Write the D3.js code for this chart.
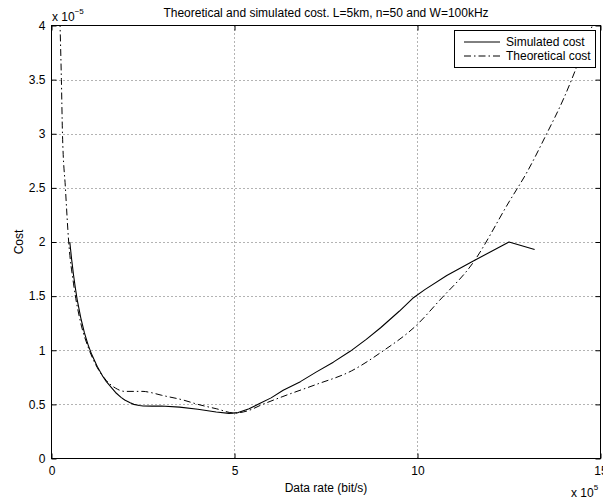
<!DOCTYPE html>
<html><head><meta charset="utf-8">
<script src="https://cdn.jsdelivr.net/npm/d3@7"></script>
<style>
html,body{margin:0;padding:0;background:#fff;}
text{font-family:"Liberation Sans",Arial,Helvetica,sans-serif;fill:#000;}
</style></head>
<body>
<svg id="chart" width="603" height="499"></svg>
<script>
// Data (x in units of 1e5 bit/s, y in units of 1e-5)
const titleText = "Theoretical and simulated cost. L=5km, n=50 and W=100kHz";
const xTicks = [0, 5, 10, 15];
const yTicks = [0, 0.5, 1, 1.5, 2, 2.5, 3, 3.5, 4];
const seriesNames = ["Simulated cost", "Theoretical cost"];

const simX = [0.5, 0.55, 0.6, 0.65, 0.7, 0.8, 0.9, 1.0, 1.1, 1.25, 1.4, 1.5, 1.65, 1.75, 1.9, 2.0, 2.15, 2.25, 2.4, 2.5, 2.75, 3.0, 3.5, 4.0, 4.5, 4.85, 5.1, 5.4, 5.7, 6.0, 6.33, 6.8, 7.24, 7.7, 8.16, 8.6, 9.0, 9.5, 9.87, 10.2, 10.8, 11.5, 12.0, 12.5, 13.2];
const simY = [2.0, 1.84, 1.7, 1.58, 1.47, 1.3, 1.16, 1.05, 0.96, 0.85, 0.76, 0.71, 0.65, 0.61, 0.565, 0.54, 0.515, 0.5, 0.49, 0.485, 0.484, 0.485, 0.475, 0.455, 0.43, 0.417, 0.424, 0.46, 0.51, 0.56, 0.63, 0.71, 0.80, 0.89, 0.99, 1.1, 1.21, 1.36, 1.48, 1.56, 1.69, 1.82, 1.91, 2.0, 1.93];

const theoX = [0.23, 0.27, 0.3, 0.38, 0.47, 0.6, 0.8, 1.0, 1.25, 1.5, 1.75, 2.0, 2.25, 2.5, 2.7, 3.0, 3.6, 4.0, 4.5, 5.0, 5.4, 5.7, 6.3, 7.2, 8.2, 9.0, 10.0, 10.6, 11.5, 12.5, 13.0, 13.5, 14.0, 14.5, 14.8];
const theoY = [4.05, 3.5, 3.0, 2.5, 2.0, 1.62, 1.25, 1.03, 0.84, 0.72, 0.65, 0.62, 0.62, 0.62, 0.61, 0.585, 0.54, 0.5, 0.46, 0.42, 0.445, 0.49, 0.57, 0.68, 0.81, 0.98, 1.24, 1.46, 1.80, 2.37, 2.65, 2.98, 3.33, 3.75, 4.02];

const svg = d3.select("#chart");
const L = 51.5, R = 600.5, T = 25.5, B = 458.5;
const x = d3.scaleLinear().domain([0, 15]).range([L, R]);
const y = d3.scaleLinear().domain([0, 4]).range([B, T]);
const FS = 12;

// grid
const grid = svg.append("g");
grid.selectAll("line.gx").data(xTicks.slice(1, -1)).join("line")
  .attr("x1", d => x(d)).attr("x2", d => x(d)).attr("y1", T).attr("y2", B)
  .attr("stroke", "#666").attr("stroke-width", 1).attr("stroke-dasharray", "1,3");
grid.selectAll("line.gy").data(yTicks.slice(1, -1)).join("line")
  .attr("y1", d => Math.round(y(d)) + 0.5).attr("y2", d => Math.round(y(d)) + 0.5).attr("x1", L).attr("x2", R)
  .attr("stroke", "#666").attr("stroke-width", 1).attr("stroke-dasharray", "1,3");

// clip
svg.append("clipPath").attr("id", "clip").append("rect")
  .attr("x", L).attr("y", T).attr("width", R - L).attr("height", B - T);

const theoLine = d3.line().x(d => x(d[0])).y(d => y(d[1])).curve(d3.curveMonotoneX);
const simLine = d3.line().x(d => x(d[0])).y(d => y(d[1])).curve(d3.curveLinear);
const simData = simX.map((v, i) => [v, simY[i]]);
const theoData = theoX.map((v, i) => [v, theoY[i]]);

const plot = svg.append("g").attr("clip-path", "url(#clip)");
plot.append("path").datum(theoData).attr("d", theoLine)
  .attr("fill", "none").attr("stroke", "#000").attr("stroke-width", 1)
  .attr("stroke-dasharray", "7,3,1.5,3");
plot.append("path").datum(simData).attr("d", simLine)
  .attr("fill", "none").attr("stroke", "#000").attr("stroke-width", 1.1)
  .attr("stroke-linejoin", "round");

// axes with inward ticks
const fmt = d => String(d);
svg.append("g").attr("transform", `translate(0,${B})`)
  .call(d3.axisBottom(x).tickValues(xTicks).tickSize(-5).tickPadding(8).tickFormat(fmt))
  .call(g => g.select(".domain").remove());
svg.append("g").attr("transform", `translate(0,${T})`)
  .call(d3.axisTop(x).tickValues(xTicks).tickSize(-5).tickFormat(""))
  .call(g => g.select(".domain").remove());
svg.append("g").attr("transform", `translate(${L},0)`)
  .call(d3.axisLeft(y).tickValues(yTicks).tickSize(-5).tickPadding(6).tickFormat(fmt))
  .call(g => g.select(".domain").remove());
svg.append("g").attr("transform", `translate(${R},0)`)
  .call(d3.axisRight(y).tickValues(yTicks).tickSize(-5).tickFormat(""))
  .call(g => g.select(".domain").remove());
svg.selectAll(".tick text").attr("font-size", FS).attr("font-family", "Liberation Sans, Arial, sans-serif");
svg.selectAll(".tick line").attr("stroke", "#000");

// box
svg.append("rect").attr("x", L).attr("y", T).attr("width", R - L).attr("height", B - T)
  .attr("fill", "none").attr("stroke", "#000").attr("stroke-width", 1);

// title and labels
svg.append("text").attr("x", (L + R) / 2).attr("y", 17).attr("text-anchor", "middle")
  .attr("font-size", FS).text(titleText);
svg.append("text").attr("x", (L + R) / 2).attr("y", 492).attr("text-anchor", "middle")
  .attr("font-size", FS).text("Data rate (bit/s)");
svg.append("text").attr("transform", `translate(22.5,${(T + B) / 2}) rotate(-90)`)
  .attr("text-anchor", "middle").attr("font-size", FS).text("Cost");

// exponent labels
const ex1 = svg.append("text").attr("x", 52).attr("y", 21).attr("font-size", FS);
ex1.append("tspan").text("x 10");
ex1.append("tspan").attr("dy", -7).attr("font-size", 8).text("−5");
const ex2 = svg.append("text").attr("x", 571).attr("y", 497).attr("font-size", FS);
ex2.append("tspan").text("x 10");
ex2.append("tspan").attr("dy", -7).attr("font-size", 8).text("5");

// legend
const lg = svg.append("g");
lg.append("rect").attr("x", 454.5).attr("y", 30.5).attr("width", 141).attr("height", 37)
  .attr("fill", "#fff").attr("stroke", "#000").attr("stroke-width", 1);
const rows = [{name: seriesNames[0], dash: null}, {name: seriesNames[1], dash: "7,3,1.5,3"}];
rows.forEach((r, i) => {
  const yy = 42 + i * 14;
  const l = lg.append("line").attr("x1", 464).attr("x2", 500).attr("y1", yy).attr("y2", yy)
    .attr("stroke", "#000").attr("stroke-width", 1);
  if (r.dash) l.attr("stroke-dasharray", r.dash);
  lg.append("text").attr("x", 506).attr("y", yy + 4).attr("font-size", FS).text(r.name);
});
</script>
</body></html>
